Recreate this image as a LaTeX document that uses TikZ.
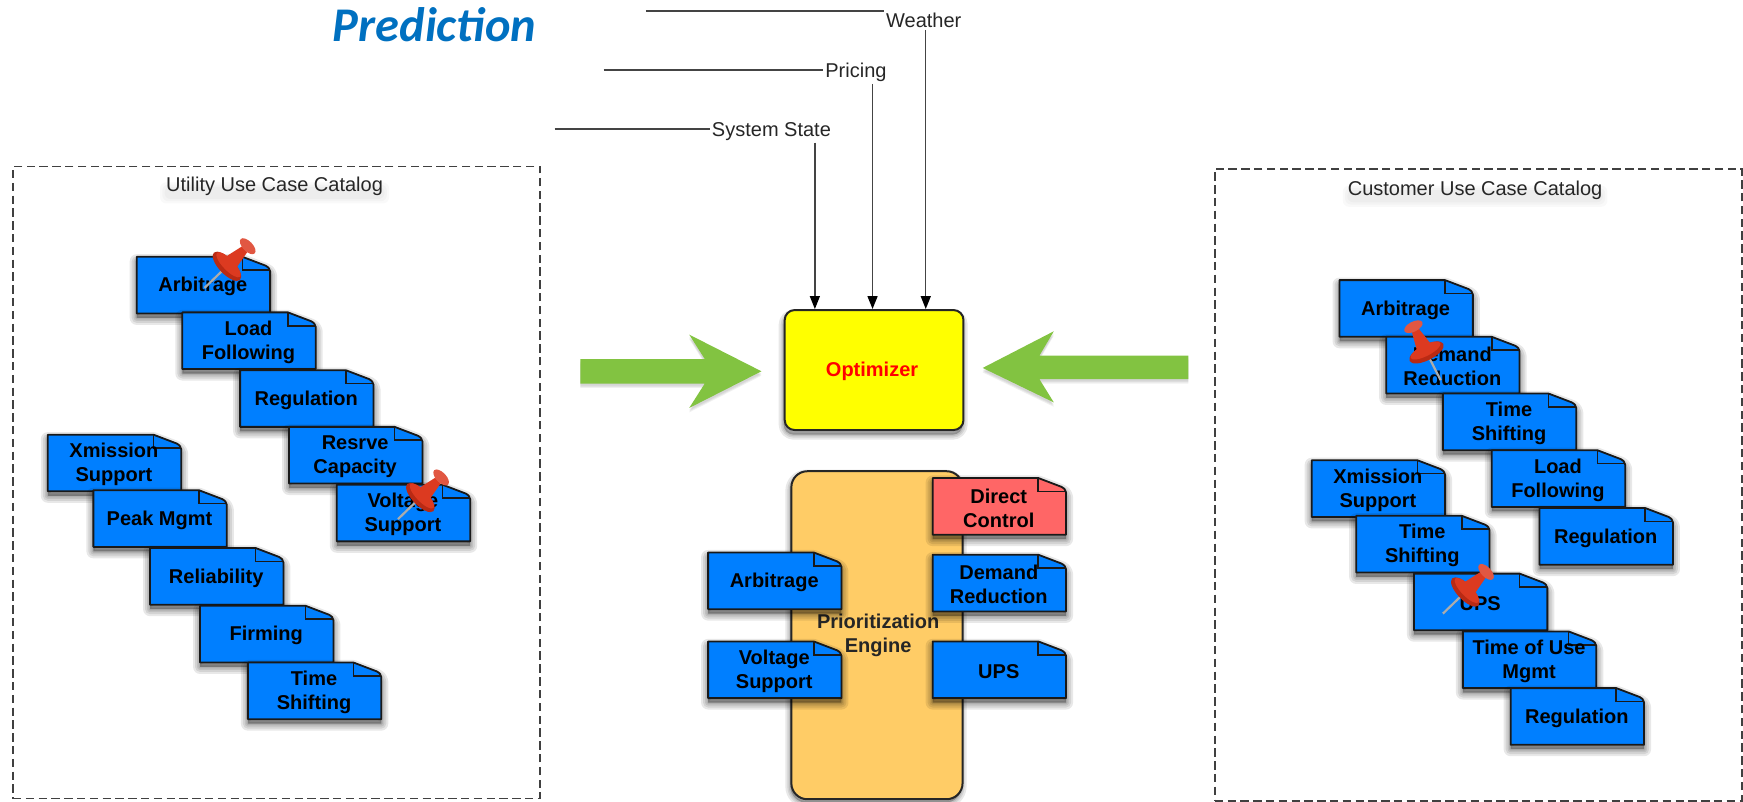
\documentclass[tikz,border=0pt]{standalone}
\usepackage{fontspec}
\setmainfont{Liberation Sans}
\newfontfamily\predfont{Carlito}
\usetikzlibrary{arrows.meta}
\definecolor{noteblue}{HTML}{007FFF}
\definecolor{notered}{HTML}{FF6666}
\definecolor{enginefill}{HTML}{FFCC66}
\definecolor{arrowgreen}{HTML}{82C341}
\definecolor{predblue}{HTML}{0070C0}
\definecolor{pinred}{HTML}{DC3A20}
\definecolor{pindark}{HTML}{B92A14}
\definecolor{linegray}{HTML}{444444}
\definecolor{optyellow}{HTML}{FFFF00}
\definecolor{optred}{HTML}{FF0000}
\definecolor{inkblack}{HTML}{000000}
\tikzset{
  notelabel/.style={font=\bfseries\fontsize{10}{12}\selectfont,align=center,text=inkblack,inner sep=0pt},
  catbox/.style={draw=black!75,line width=0.85pt,dash pattern=on 4.2pt off 2.2pt},
  cattitle/.style={font=\fontsize{10}{12}\selectfont,text=black!85,inner sep=0pt},
  inputlabel/.style={font=\fontsize{10}{12}\selectfont,text=black!85,inner sep=1pt},
  feed/.style={draw=linegray,line width=0.8pt},
  feedarrow/.style={draw=linegray,line width=0.7pt,-{Stealth[length=6.5pt,width=5pt,inset=0pt,color=inkblack]}},
  softshadow/.style={draw=inkblack,fill=inkblack,line join=round,opacity=0.09},
}
\newcommand{\notepath}{(0,0) -- (95,0) -- (116,8) .. controls (119,10) .. (120,13) -- (120,51) -- (0,51) -- cycle}
% \notebox{name}{left}{top}{colour}{text}
\newcommand{\notebox}[5]{%
  \begin{scope}[shift={(#2,#3)}]
    \foreach \w in {7,5,3,1.5}
      \draw[softshadow,line width=\w pt,shift={(0,4)}] \notepath;
    \fill[#4,draw=black!90,line width=0.9pt,line join=round] \notepath;
    \draw[black!90,line width=0.8pt] (95,0) -- (95,12) -- (120,12);
    \node[notelabel] (#1) at (59.5,27) {#5};
  \end{scope}}
% \thumbpin{x}{y}{angle} : x,y = needle tip
\newcommand{\thumbpin}[3]{%
  \begin{scope}[shift={(#1,#2)},rotate=#3]
    \draw[gray!65,line width=1.1pt] (0,0) -- (26,0);
    \fill[pindark] (28,0) ellipse (7 and 17);
    \fill[pinred] (30,0) ellipse (5 and 15);
    \fill[pinred] (28,-8) -- (50,-3.5) -- (50,3.5) -- (28,8) -- cycle;
    \fill[pinred!85!white] (54,0) ellipse (4.5 and 9);
  \end{scope}}
\begin{document}
\begin{tikzpicture}[x=0.55580pt,y=-0.55580pt]
\useasboundingbox (0,0) rectangle (1568,721);

\node[font=\predfont\bfseries\itshape\fontsize{24.2}{28}\selectfont,text=predblue,inner sep=0pt] (pred) at (391,22) {Prediction};

% catalogue frames
\node[catbox,minimum width=263.5pt,minimum height=316pt,inner sep=0pt,anchor=north west] (utilbox) at (11,149) {};
\node[catbox,minimum width=263.5pt,minimum height=316pt,inner sep=0pt,anchor=north west] (custbox) at (1092,151) {};
\foreach \w/\cx/\cy in {98/247/175,114/1327/178}{
  \foreach \e in {1,3,5}
    \fill[inkblack,opacity=0.025,rounded corners=3pt] (\cx-\w-\e,\cy-6-\e) rectangle (\cx+\w+\e,\cy+3+\e);
}
\node[cattitle] (utiltitle) at (247,168) {Utility Use Case Catalog};
\node[cattitle] (custtitle) at (1327,171) {Customer Use Case Catalog};

% inputs
\node[inputlabel] (weather) at (831,18) {Weather};
\node[inputlabel] (pricing) at (770,65) {Pricing};
\node[inputlabel] (sysstate) at (694,118) {System State};
\coordinate (wfree) at (581,10);
\coordinate (pfree) at (543,63);
\coordinate (sfree) at (499,116);

% optimizer
\foreach \w in {5,3,1.5}
  \fill[softshadow,line width=\w pt,rounded corners=5pt] (705,283) rectangle (866,391);
\node[draw=black!85,fill=optyellow,line width=1pt,rounded corners=5pt,minimum width=89.4pt,minimum height=60pt,inner sep=0pt,anchor=north west] (opt) at (705,278) {};
\node[font=\bfseries\fontsize{10}{12}\selectfont,text=optred,inner sep=0pt] (optlabel) at (784.5,334) {Optimizer};

\draw[feed] (wfree) -- (wfree -| weather.west);
\draw[feed] (pfree) -- (pfree -| pricing.west);
\draw[feed] (sfree) -- (sfree -| sysstate.west);
\draw[feedarrow] ([xshift=1pt]weather.south) -- ([xshift=1pt]weather.south |- opt.north);
\draw[feedarrow] ([xshift=8.3pt]pricing.south) -- ([xshift=8.3pt]pricing.south |- opt.north);
\draw[feedarrow] ([xshift=21.7pt]sysstate.south) -- ([xshift=21.7pt]sysstate.south |- opt.north);

% big green arrows
\foreach \e in {1,2,3}{
  \fill[inkblack,opacity=0.06,shift={(0,\e+1)}] (522,323) -- (634,323) -- (620,301) -- (685,334) -- (620,367) -- (634,345) -- (522,345) -- cycle;
  \fill[inkblack,opacity=0.06,shift={(0,\e+1)}] (1069,320) -- (935,320) -- (948,298) -- (884,331) -- (948,362) -- (935,341) -- (1069,341) -- cycle;
}
\fill[arrowgreen] (522,323) -- (634,323) -- (620,301) -- (685,334) -- (620,367) -- (634,345) -- (522,345) -- cycle;
\fill[arrowgreen] (1069,320) -- (935,320) -- (948,298) -- (884,331) -- (948,362) -- (935,341) -- (1069,341) -- cycle;

% prioritization engine
\foreach \w in {5,3,1.5}
  \fill[softshadow,line width=\w pt,rounded corners=8pt] (711,427) rectangle (865,722);
\node[draw=black!85,fill=enginefill,line width=1pt,rounded corners=8pt,minimum width=85.6pt,minimum height=164pt,inner sep=0pt,anchor=north west] (engine) at (711,423) {};
\node[notelabel,text=black!85] (enginelabel) at (790,572) {Prioritization\\Engine};

% utility catalogue notes
\notebox{ua}{123}{231}{noteblue}{Arbitrage}
\notebox{ub}{164}{281}{noteblue}{Load\\Following}
\notebox{uc}{216}{333}{noteblue}{Regulation}
\notebox{ud}{260}{384}{noteblue}{Resrve\\Capacity}
\notebox{ue}{303}{436}{noteblue}{Voltage\\Support}
\notebox{uf}{43}{391}{noteblue}{Xmission\\Support}
\notebox{ug}{84}{441}{noteblue}{Peak Mgmt}
\notebox{uh}{135}{493}{noteblue}{Reliability}
\notebox{ui}{180}{545}{noteblue}{Firming}
\notebox{uj}{223}{596}{noteblue}{Time\\Shifting}

% customer catalogue notes
\notebox{ca}{1205}{252}{noteblue}{Arbitrage}
\notebox{cb}{1247}{303}{noteblue}{Demand\\Reduction}
\notebox{cc}{1298}{354}{noteblue}{Time\\Shifting}
\notebox{cd}{1342}{405}{noteblue}{Load\\Following}
\notebox{ce}{1385}{457}{noteblue}{Regulation}
\notebox{cf}{1180}{414}{noteblue}{Xmission\\Support}
\notebox{cg}{1220}{464}{noteblue}{Time\\Shifting}
\notebox{ch}{1272}{516}{noteblue}{UPS}
\notebox{ci}{1316}{568}{noteblue}{Time of Use\\Mgmt}
\notebox{cj}{1359}{619}{noteblue}{Regulation}

% engine notes
\notebox{ea}{839}{430}{notered}{Direct\\Control}
\notebox{eb}{637}{497}{noteblue}{Arbitrage}
\notebox{ec}{839}{499}{noteblue}{Demand\\Reduction}
\notebox{ed}{637}{577}{noteblue}{Voltage\\Support}
\notebox{ee}{839}{577}{noteblue}{UPS}

% pins
\thumbpin{184}{259}{44}
\thumbpin{358}{467}{44}
\thumbpin{1296}{342}{117}
\thumbpin{1298}{552}{44}
\end{tikzpicture}
\end{document}
